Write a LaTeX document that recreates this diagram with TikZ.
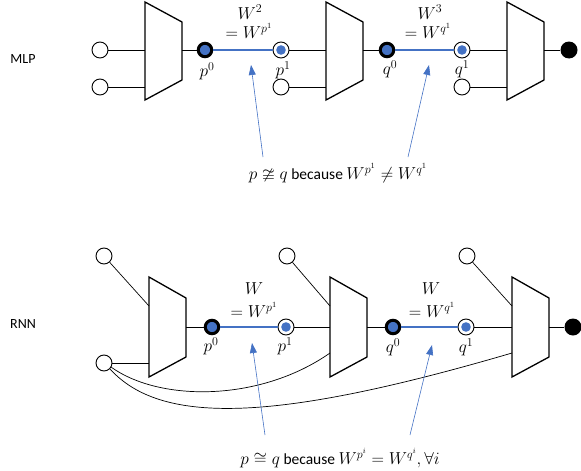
\documentclass[tikz,border=0pt]{standalone}
\usepackage{fontspec}
\setmainfont{Carlito}
\usepackage{amsmath, amssymb}
\usetikzlibrary{arrows.meta}
\definecolor{LinkBlue}{HTML}{4472C4}

\tikzset{
  port/.style={circle, draw, fill=white, line width=0.9pt, minimum size=16pt, inner sep=0pt},
  sink/.style={circle, fill=black, minimum size=17pt, inner sep=0pt},
  hub/.style={circle, draw, fill=LinkBlue, line width=3pt, minimum size=13.5pt, inner sep=0pt},
  ring/.style={circle, draw, fill=white, line width=0.9pt, minimum size=16pt, inner sep=0pt,
    path picture={\fill[LinkBlue] (path picture bounding box.center) circle (4.8pt);}},
  layer/.style={draw, line width=1.3pt, fill=white},
  wire/.style={draw, line width=0.7pt},
  link/.style={LinkBlue, line width=2pt},
  pointer/.style={LinkBlue, line width=0.6pt, -{Triangle[length=10pt,width=7pt]}},
  lbl/.style={font=\fontsize{14}{17}\selectfont, inner sep=1pt},
  mlbl/.style={font=\fontsize{16.5}{19}\selectfont, inner sep=1pt}
}
\newcommand{\bec}{{\fontsize{15.5}{18}\selectfont\ because\ }}

\begin{document}
\begin{tikzpicture}[x=1pt, y=-1pt]
\useasboundingbox (0,0) rectangle (581,471);

% MLP
\node[lbl] (mlp) at (23,59) {MLP};
\foreach \x/\n in {145/ma,326/mb,507/mc} {
  \draw[layer] (\x,2) -- (\x+37,22) -- (\x+37,80) -- (\x,100) -- cycle;
  \coordinate (\n) at (\x,50);
  \coordinate (\n-out) at (\x+37,50);
}
\node[port] (x1) at (100,50) {};
\node[port] (x2) at (100,87) {};
\node[port] (x3) at (281,87) {};
\node[port] (x4) at (462,87) {};
\draw[wire] (x1) -- (x1 -| ma);
\draw[wire] (x2) -- (x2 -| ma);
\draw[wire] (x3) -- (x3 -| mb);
\draw[wire] (x4) -- (x4 -| mc);

\node[hub] (p0) at (205,50) {};
\node[ring] (p1) at (281,50) {};
\node[hub] (q0) at (387,50) {};
\node[ring] (q1) at (462,50) {};
\node[sink] (y) at (569,50) {};
\draw[wire] (ma-out) -- (p0);
\draw[wire] (p1) -- (mb);
\draw[wire] (mb-out) -- (q0);
\draw[wire] (q1) -- (mc);
\draw[wire] (mc-out) -- (y);
\draw[link] (p0) -- (p1);
\draw[link] (q0) -- (q1);

\node[mlbl] (p0l) at (207,71) {$p^0$};
\node[mlbl] (p1l) at (283,70) {$p^1$};
\node[mlbl] (q0l) at (390,69) {$q^0$};
\node[mlbl] (q1l) at (462,69) {$q^1$};
\node[mlbl] (w2) at (250,12) {$W^2$};
\node[mlbl] (w2e) at (249,31) {$=W^{p^1}$};
\node[mlbl] (w3) at (430,12) {$W^3$};
\node[mlbl] (w3e) at (428,31) {$=W^{q^1}$};

\node[mlbl] (note1) at (338,174) {$p \ncong q$\bec$W^{p^1} \neq W^{q^1}$};
\coordinate (s1) at (263,157);
\coordinate (t1) at (251,65);
\coordinate (s2) at (408,157);
\coordinate (t2) at (429,65);
\draw[pointer] (s1) -- (t1);
\draw[pointer] (s2) -- (t2);

% RNN
\node[lbl] (rnn) at (23,324) {RNN};
\foreach \x/\n in {149/ra,330/rb,512/rc} {
  \draw[layer] (\x,277) -- (\x+37,298) -- (\x+37,357) -- (\x,377) -- cycle;
  \coordinate (\n) at (\x,327);
  \coordinate (\n-out) at (\x+37,327);
  \coordinate (\n-top) at (\x,306);
  \coordinate (\n-low) at (\x,353);
}
\node[port] (h1) at (104,256) {};
\node[port] (h2) at (104,363) {};
\node[port] (h3) at (287,256) {};
\node[port] (h4) at (467,256) {};
\draw[wire] (h1) -- (ra-top);
\draw[wire] (h2) -- (h2 -| ra);
\draw[wire] (h3) -- (rb-top);
\draw[wire] (h4) -- (rc-top);
\draw[wire] (h2.-30) .. controls (160,402) and (260,402) .. (rb-low);
\draw[wire] (h2.-45) .. controls (160,424) and (270,424) .. (rc-low);

\node[hub] (rp0) at (212,327) {};
\node[ring] (rp1) at (286,327) {};
\node[hub] (rq0) at (393,327) {};
\node[ring] (rq1) at (466,327) {};
\node[sink] (ry) at (573,327) {};
\draw[wire] (ra-out) -- (rp0);
\draw[wire] (rp1) -- (rb);
\draw[wire] (rb-out) -- (rq0);
\draw[wire] (rq1) -- (rc);
\draw[wire] (rc-out) -- (ry);
\draw[link] (rp0) -- (rp1);
\draw[link] (rq0) -- (rq1);

\node[mlbl] (rp0l) at (211,346) {$p^0$};
\node[mlbl] (rp1l) at (285,346) {$p^1$};
\node[mlbl] (rq0l) at (393,347) {$q^0$};
\node[mlbl] (rq1l) at (466,347) {$q^1$};
\node[mlbl] (rw) at (254,289) {$W$};
\node[mlbl] (rwe) at (254,310) {$=W^{p^1}$};
\node[mlbl] (rw2) at (431,289) {$W$};
\node[mlbl] (rw2e) at (432,310) {$=W^{q^1}$};

\node[mlbl] (note2) at (340,458) {$p \cong q$\bec$W^{p^i} = W^{q^i}, \forall i$};
\coordinate (s3) at (265,435);
\coordinate (t3) at (252,343);
\coordinate (s4) at (410,435);
\coordinate (t4) at (432,345);
\draw[pointer] (s3) -- (t3);
\draw[pointer] (s4) -- (t4);
\end{tikzpicture}
\end{document}
